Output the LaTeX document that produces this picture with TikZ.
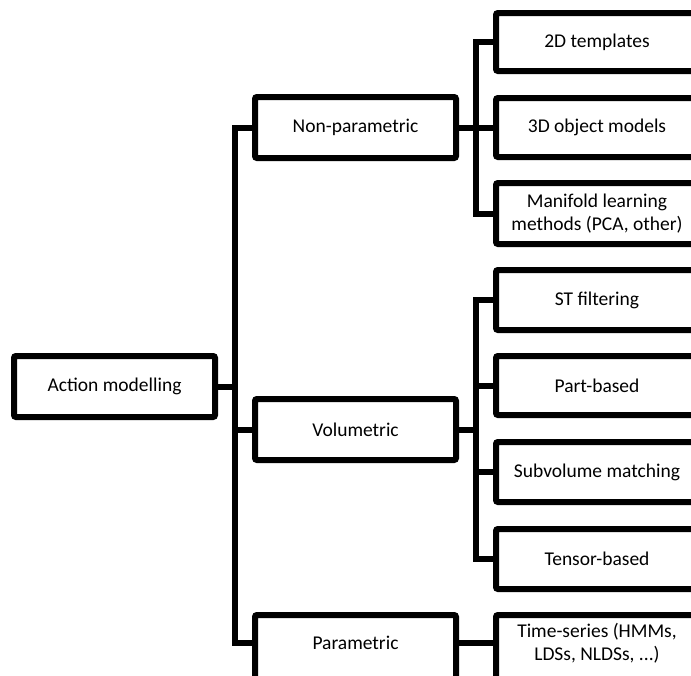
\documentclass[tikz,border=0pt]{standalone}
\usepackage{fontspec}
\setmainfont{Carlito}
\begin{document}
\begin{tikzpicture}[x=1pt,y=-1pt,
  box/.style={draw=black,line width=6pt,rounded corners=2pt,fill=white,inner sep=0pt,
    align=center,font=\fontsize{19.5}{23.5}\selectfont},
  lbox/.style={box,minimum width=201pt,minimum height=61pt},
  rbox/.style={box,minimum width=202pt},
  conn/.style={line width=6pt,draw=black}]
\useasboundingbox (0,0) rectangle (691,675);
\clip (0,0) rectangle (691,675);
% connectors first
\coordinate (trk) at (235,0);
\coordinate (rtA) at (476,0);
% nodes
\node[lbox] (am) at (114.5,386.5) {Action modelling};
\node[lbox] (np) at (355.5,127.5) {Non-parametric};
\node[lbox] (vol) at (355.5,429.5) {Volumetric};
\node[lbox,minimum height=67pt] (par) at (355.5,648.5) {};
\node[font=\fontsize{19.5}{23.5}\selectfont] (parlbl) at (355.5,643) {Parametric};
\node[rbox,minimum height=58pt] (t2d) at (597,42) {2D templates};
\node[rbox,minimum height=59pt] (t3d) at (597,127.5) {3D object models};
\node[rbox,minimum height=61pt] (mani) at (597,213.5) {Manifold learning\\methods (PCA, other)};
\node[rbox,minimum height=60pt] (st) at (597,300) {ST filtering};
\node[rbox,minimum height=59pt] (part) at (597,385.5) {Part-based};
\node[rbox,minimum height=60pt] (sub) at (597,472) {Subvolume matching};
\node[rbox,minimum height=60pt] (ten) at (597,559) {Tensor-based};
\node[rbox,minimum height=67pt] (ts) at (597,648.5) {};
\node[font=\fontsize{19.5}{23.5}\selectfont,align=center] (tslbl) at (597,643) {Time-series (HMMs,\\LDSs, NLDSs, ...)};
% trunk
\draw[conn] (np.west) -- (trk |- np.west) -- (trk |- parlbl) -- (par.west |- parlbl);
\draw[conn] (am.east) -- (trk |- am.east);
\draw[conn] (vol.west) -- (trk |- vol.west);
% non-parametric branch
\draw[conn] (t2d.west) -- (rtA |- t2d.west) -- (rtA |- mani.west) -- (mani.west);
\draw[conn] (np.east) -- (t3d.west);
% volumetric branch
\draw[conn] (st.west) -- (rtA |- st.west) -- (rtA |- ten.west) -- (ten.west);
\draw[conn] (part.west) -- (rtA |- part.west);
\draw[conn] (sub.west) -- (rtA |- sub.west);
\draw[conn] (vol.east) -- (rtA |- vol.east);
% parametric branch
\draw[conn] (par.east |- parlbl) -- (ts.west |- tslbl);
\end{tikzpicture}
\end{document}
